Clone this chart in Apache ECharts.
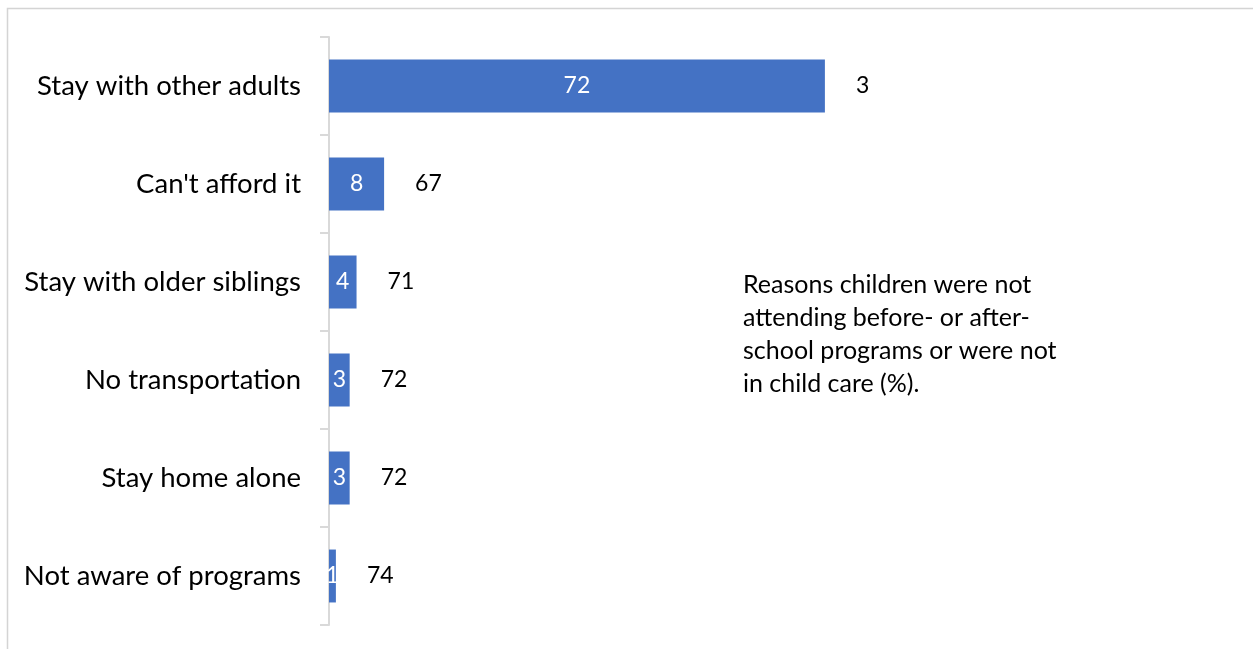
<!DOCTYPE html>
<html><head><meta charset="utf-8">
<script src="https://cdn.jsdelivr.net/npm/echarts@6/dist/echarts.min.js"></script>
<style>html,body{margin:0;padding:0;background:#fff}#c{width:1253px;height:649px}</style>
</head><body><div id="c"></div>
<script>
const categories = ["Stay with other adults","Can't afford it","Stay with older siblings","No transportation","Stay home alone","Not aware of programs"];
const reasonValues = [72, 8, 4, 3, 3, 1];
const otherValues = [3, 67, 71, 72, 72, 74];
const noteText = "Reasons children were not\nattending before- or after-\nschool programs or were not\nin child care (%).";

const FONT = 'Lato';
const chart = echarts.init(document.getElementById('c'));
chart.setOption({
  animation: false,
  backgroundColor: '#fff',
  textStyle: {fontFamily: FONT},
  graphic: [
    {type: 'rect', shape: {x: 7.5, y: 8.5, width: 1300, height: 700}, style: {fill: 'none', stroke: '#d4d4d4', lineWidth: 1.5}, silent: true},
    {type: 'text', left: 743, top: 268, style: {text: noteText, font: '25px Lato', fill: '#000', lineHeight: 33}}
  ],
  grid: {left: 329, right: 373, top: 37, bottom: 24, containLabel: false},
  xAxis: {type: 'value', min: 0, max: 80, show: false},
  yAxis: {
    type: 'category', data: categories, inverse: true,
    axisLine: {show: true, lineStyle: {color: '#d9d9d9', width: 2}},
    axisTick: {show: true, length: 9, lineStyle: {color: '#d9d9d9', width: 2}},
    axisLabel: {color: '#000', fontSize: 27.5, fontFamily: FONT, margin: 28}
  },
  series: [
    {type: 'bar', stack: 's', data: reasonValues, barCategoryGap: '46%',
     itemStyle: {color: '#4472c4'},
     label: {show: true, position: 'inside', color: '#fff', fontSize: 23, fontFamily: FONT}},
    {type: 'bar', stack: 's', data: otherValues,
     itemStyle: {color: 'rgba(0,0,0,0)'},
     label: {show: true, position: 'insideLeft', distance: 31, color: '#000', fontSize: 23, fontFamily: FONT}}
  ]
});
</script></body></html>
